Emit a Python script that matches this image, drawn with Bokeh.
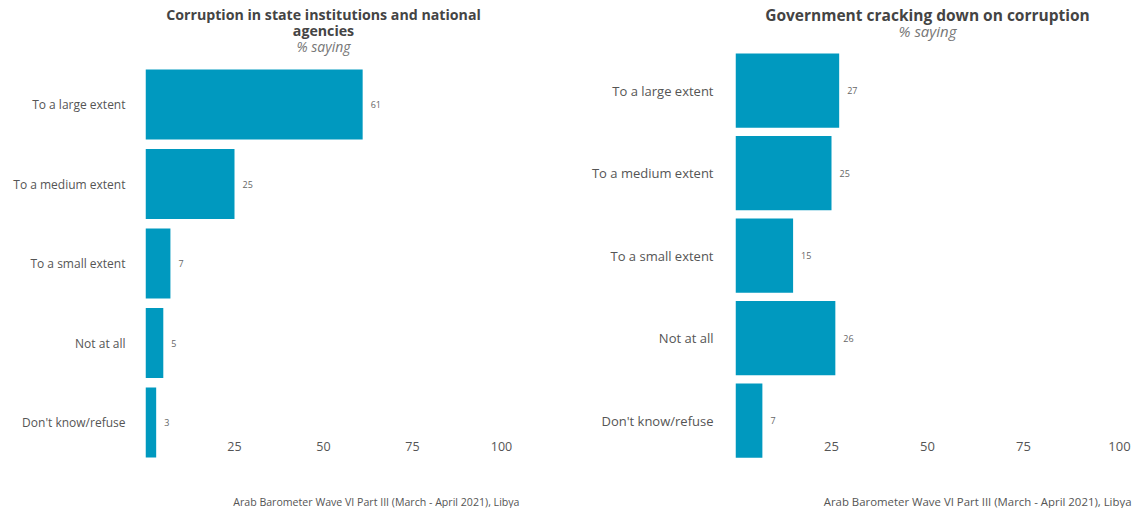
from bokeh.plotting import figure
from bokeh.models import Range1d, FixedTicker, ColumnDataSource
from bokeh.layouts import row
from bokeh.core.properties import value
from bokeh.embed import file_html
from bokeh.resources import INLINE

# ---- data ----
categories = ["To a large extent", "To a medium extent", "To a small extent",
              "Not at all", "Don't know/refuse"]
corruption_values = [61, 25, 7, 5, 3]
crackdown_values = [27, 25, 15, 26, 7]
x_ticks = [25, 50, 75, 100]
left_title = ["Corruption in state institutions and national", "agencies"]
right_title = ["Government cracking down on corruption"]
subtitle = "% saying"
caption = "Arab Barometer Wave VI Part III (March - April 2021), Libya"

FONT = "Open Sans"
BLUE = "#0099bf"
PAGE_TOP = 0
HEIGHT = 508


def panel(values, title_lines, fig_left, fig_width, zero_px, unit_px,
          first_px, step_px, bar_h, title_center_px, caption_right_px,
          label_standoff, title_size, sub_size, ylab_size, tick_size,
          cap_size):
    frame_right = fig_left + fig_width
    x_end = (frame_right - zero_px) / unit_px

    def ypx(py):
        return (py - first_px) / step_px

    def xpx(px):
        return (px - zero_px) / unit_px

    p = figure(width=fig_width, height=HEIGHT,
               x_range=Range1d(0, x_end),
               y_range=Range1d(ypx(PAGE_TOP + HEIGHT), ypx(PAGE_TOP)),
               output_backend="svg", toolbar_location=None,
               min_border_left=zero_px - fig_left, min_border_right=0,
               min_border_top=0, min_border_bottom=0)
    p.outline_line_color = None
    p.xgrid.visible = False
    p.ygrid.visible = False
    p.background_fill_color = "white"

    pos = list(range(len(categories)))
    src = ColumnDataSource(dict(pos=pos, val=values,
                                lab=[str(v) for v in values]))
    p.hbar(y="pos", left=0, right="val", height=bar_h, source=src,
           fill_color=BLUE, line_color=None)
    p.text(x="val", y="pos", text="lab", source=src, x_offset=8,
           text_baseline="middle", text_align="left",
           text_font=value(FONT), text_font_size="9px", text_color="#666666")

    # titles
    n = len(title_lines)
    title_ys = [ypx(14 + 16 * i) for i in range(n)]
    p.text(x=[xpx(title_center_px)] * n, y=title_ys, text=title_lines,
           text_align="center", text_baseline="middle",
           text_font=value(FONT), text_font_size=title_size,
           text_font_style="bold", text_color="#444444")
    p.text(x=[xpx(title_center_px)], y=[ypx(14 + 16 * n)], text=[subtitle],
           text_align="center", text_baseline="middle",
           text_font=value(FONT), text_font_size=sub_size,
           text_font_style="italic", text_color="#777777")
    # caption
    p.text(x=[xpx(caption_right_px)], y=[ypx(501)], text=[caption],
           text_align="right", text_baseline="middle",
           text_font=value(FONT), text_font_size=cap_size,
           text_color="#555555")

    # x axis
    xa = p.xaxis[0]
    xa.ticker = FixedTicker(ticks=x_ticks)
    xa.fixed_location = ypx(440)
    xa.axis_line_color = None
    xa.major_tick_line_color = None
    xa.minor_tick_line_color = None
    xa.major_tick_out = 0
    xa.major_tick_in = 0
    xa.major_label_standoff = 1
    xa.major_label_text_font = FONT
    xa.major_label_text_font_size = tick_size
    xa.major_label_text_color = "#555555"

    # y axis
    ya = p.yaxis[0]
    ya.ticker = FixedTicker(ticks=pos)
    ya.major_label_overrides = {i: c for i, c in enumerate(categories)}
    ya.axis_line_color = None
    ya.major_tick_line_color = None
    ya.minor_tick_line_color = None
    ya.major_tick_out = 0
    ya.major_tick_in = 0
    ya.major_label_standoff = label_standoff
    ya.major_label_text_font = FONT
    ya.major_label_text_font_size = ylab_size
    ya.major_label_text_color = "#555555"
    return p


p1 = panel(corruption_values, left_title, fig_left=0, fig_width=568,
           zero_px=145, unit_px=3.56, first_px=104, step_px=79.5,
           bar_h=0.88, title_center_px=323, caption_right_px=519,
           label_standoff=20, title_size="14.2px", sub_size="14px",
           ylab_size="12px", tick_size="12.5px", cap_size="10.6px")
p2 = panel(crackdown_values, right_title, fig_left=568, fig_width=565,
           zero_px=735, unit_px=3.84, first_px=90, step_px=82.5,
           bar_h=0.9, title_center_px=927, caption_right_px=1131,
           label_standoff=22, title_size="15.5px", sub_size="15px",
           ylab_size="13px", tick_size="13px", cap_size="11.4px")

layout = row(p1, p2)
open("out.html", "w").write(file_html(layout, INLINE))
